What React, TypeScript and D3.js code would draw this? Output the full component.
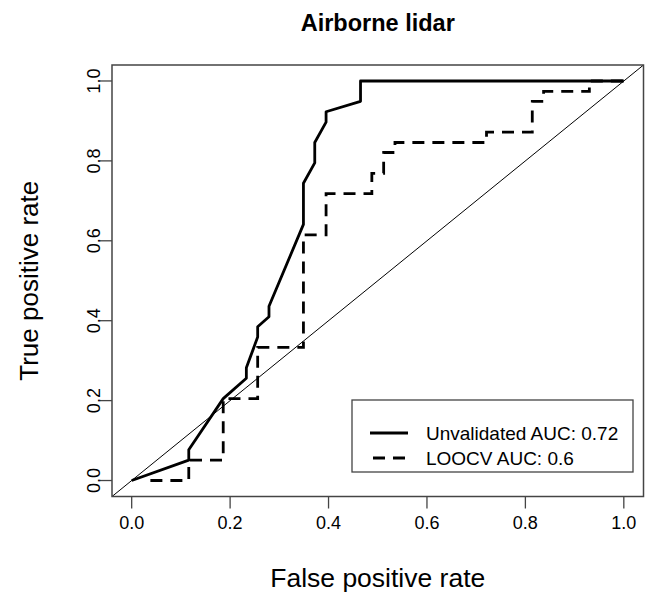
import React from "react";
import * as d3 from "d3";

const title = "Airborne lidar";
const xLabel = "False positive rate";
const yLabel = "True positive rate";
const tickValues = [0, 0.2, 0.4, 0.6, 0.8, 1.0];

const unvalidatedFPR = [0, 0.116, 0.116, 0.186, 0.233, 0.233, 0.256, 0.256, 0.279, 0.279, 0.349, 0.349, 0.372, 0.372, 0.395, 0.395, 0.465, 0.465, 1.0];
const unvalidatedTPR = [0, 0.051, 0.077, 0.205, 0.256, 0.282, 0.359, 0.385, 0.41, 0.436, 0.641, 0.744, 0.795, 0.846, 0.897, 0.923, 0.949, 1.0, 1.0];

const loocvFPR = [0.038, 0.116, 0.116, 0.186, 0.186, 0.256, 0.256, 0.349, 0.349, 0.395, 0.395, 0.488, 0.488, 0.512, 0.512, 0.535, 0.535, 0.721, 0.721, 0.814, 0.814, 0.837, 0.837, 0.93, 0.93, 1.0];
const loocvTPR = [0, 0, 0.051, 0.051, 0.205, 0.205, 0.333, 0.333, 0.615, 0.615, 0.718, 0.718, 0.769, 0.769, 0.821, 0.821, 0.846, 0.846, 0.872, 0.872, 0.949, 0.949, 0.974, 0.974, 1.0, 1.0];

const legendLabels = ["Unvalidated AUC: 0.72", "LOOCV AUC: 0.6"];

const W = 645;
const H = 594;
const FONT = "'Liberation Sans', Arial, Helvetica, sans-serif";

export default function App() {
  const x = d3.scaleLinear().domain([-0.04, 1.04]).range([112, 643.5]);
  const y = d3.scaleLinear().domain([-0.04, 1.04]).range([496.5, 65]);
  const line = d3
    .line<[number, number]>()
    .x((d) => x(d[0]))
    .y((d) => y(d[1]));
  const unval: [number, number][] = unvalidatedFPR.map((v, i) => [v, unvalidatedTPR[i]]);
  const loocv: [number, number][] = loocvFPR.map((v, i) => [v, loocvTPR[i]]);
  const diag: [number, number][] = [
    [-0.04, -0.04],
    [1.04, 1.04],
  ];
  const [x0, x1] = x.range();
  const [y0, y1] = y.range();
  const fmt = d3.format(".1f");

  return (
    <svg width={W} height={H} style={{ position: "absolute", left: 0, top: 0, background: "#fff" }} fontFamily={FONT}>
      <defs>
        <clipPath id="plotclip">
          <rect x={x0} y={y1} width={x1 - x0} height={y0 - y1} />
        </clipPath>
      </defs>
      <text x={(x0 + x1) / 2} y={31} textAnchor="middle" fontSize={23.5} fontWeight="bold" fill="#000">
        {title}
      </text>
      <g clipPath="url(#plotclip)">
        <path d={line(diag) || ""} stroke="#000" strokeWidth={1} fill="none" />
        <path d={line(loocv) || ""} stroke="#000" strokeWidth={2.8} fill="none" strokeDasharray="12,8" />
        <path d={line(unval) || ""} stroke="#000" strokeWidth={2.8} fill="none" strokeLinejoin="round" />
      </g>
      <rect x={x0} y={y1} width={x1 - x0} height={y0 - y1} fill="none" stroke="#444" strokeWidth={1.5} />
      {tickValues.map((t) => (
        <g key={"x" + t}>
          <line x1={x(t)} x2={x(t)} y1={y0} y2={y0 + 12} stroke="#444" strokeWidth={1.3} />
          <text x={x(t)} y={529} textAnchor="middle" fontSize={18} fill="#000">
            {fmt(t)}
          </text>
        </g>
      ))}
      {tickValues.map((t) => (
        <g key={"y" + t}>
          <line x1={x0} x2={x0 - 12} y1={y(t)} y2={y(t)} stroke="#444" strokeWidth={1.3} />
          <text transform={`translate(${100},${y(t)}) rotate(-90)`} textAnchor="middle" fontSize={18} fill="#000">
            {fmt(t)}
          </text>
        </g>
      ))}
      <text x={(x0 + x1) / 2} y={587} textAnchor="middle" fontSize={26.5} fill="#000">
        {xLabel}
      </text>
      <text transform={`translate(${38},${(y0 + y1) / 2}) rotate(-90)`} textAnchor="middle" fontSize={26} fill="#000">
        {yLabel}
      </text>
      <g>
        <rect x={352} y={400} width={281} height={72} fill="#fff" stroke="#444" strokeWidth={1.3} />
        <line x1={370} x2={408} y1={433} y2={433} stroke="#000" strokeWidth={2.8} />
        <line x1={370} x2={408} y1={458} y2={458} stroke="#000" strokeWidth={2.8} strokeDasharray="12,8" strokeDashoffset={-3} />
        <text x={426} y={440} fontSize={19} fill="#000">
          {legendLabels[0]}
        </text>
        <text x={426} y={465} fontSize={19} fill="#000">
          {legendLabels[1]}
        </text>
      </g>
    </svg>
  );
}
